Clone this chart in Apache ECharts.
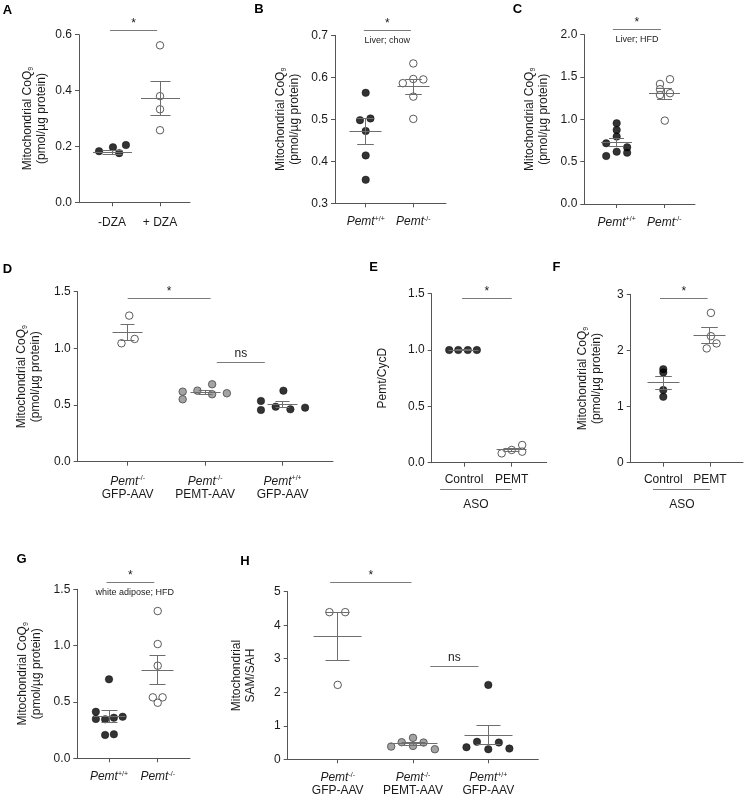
<!DOCTYPE html>
<html><head><meta charset="utf-8">
<script src="https://cdn.jsdelivr.net/npm/echarts@6/dist/echarts.min.js"></script>
<style>html,body{margin:0;padding:0;background:#fff}#c{width:745px;height:797px}</style>
</head><body><div id="c"></div>
<script>
// ---------------- DATA ----------------
// Panel A
const A_categories = ['-DZA', '+ DZA'];
const A_minus = [0.183, 0.197, 0.176, 0.205];
const A_minus_jitter = [-0.27, 0.02, 0.15, 0.29];
const A_plus = [0.562, 0.380, 0.333, 0.258];
const A_plus_jitter = [0, 0, 0, 0];
const A_mean = [0.179, 0.372];
const A_sem = [0.008, 0.060];
// Panel B (Liver; chow)
const B_categories = ['{i|Pemt}{p|+/+}', '{i|Pemt}{p|-/-}'];
const B_wt = [0.563, 0.498, 0.502, 0.472, 0.414, 0.356];
const B_wt_jitter = [0, -0.12, 0.10, 0, 0, 0];
const B_ko = [0.633, 0.586, 0.596, 0.595, 0.554, 0.501];
const B_ko_jitter = [0, -0.22, 0, 0.21, 0, 0];
const B_mean = [0.471, 0.577];
const B_sem = [0.031, 0.018];
// Panel C (Liver; HFD)
const C_categories = ['{i|Pemt}{p|+/+}', '{i|Pemt}{p|-/-}'];
const C_wt = [0.954, 0.875, 0.796, 0.717, 0.567, 0.618, 0.670, 0.606];
const C_wt_jitter = [0, 0, 0, -0.22, -0.22, 0, 0.22, 0.22];
const C_ko = [1.418, 1.356, 1.288, 1.474, 1.309, 0.985];
const C_ko_jitter = [-0.09, -0.09, -0.09, 0.12, 0.12, 0.01];
const C_mean = [0.725, 1.300];
const C_sem = [0.045, 0.063];
// Panel D
const D_categories = ['{i|Pemt}{p|-/-}\n{n|GFP-AAV}', '{i|Pemt}{p|-/-}\n{n|PEMT-AAV}', '{i|Pemt}{p|+/+}\n{n|GFP-AAV}'];
const D_koGfp = [1.289, 1.045, 1.083];
const D_koGfp_jitter = [0.02, -0.08, 0.09];
const D_koPemt = [0.618, 0.551, 0.627, 0.683, 0.595, 0.604];
const D_koPemt_jitter = [-0.29, -0.29, -0.10, 0.09, 0.09, 0.28];
const D_wtGfp = [0.536, 0.456, 0.485, 0.627, 0.462, 0.477];
const D_wtGfp_jitter = [-0.28, -0.28, -0.09, 0.01, 0.10, 0.29];
const D_mean = [1.139, 0.609, 0.503];
const D_sem = [0.070, 0.020, 0.027];
// Panel E
const E_categories = ['Control', 'PEMT'];
const E_control = [1.0, 1.0, 1.0, 1.0];
const E_control_jitter = [-0.31, -0.12, 0.08, 0.27];
const E_pemt = [0.083, 0.113, 0.157, 0.098];
const E_pemt_jitter = [-0.21, 0, 0.22, 0.22];
const E_mean = [1.0, 0.113];
const E_sem = [0.003, 0.016];
// Panel F
const F_categories = ['Control', 'PEMT'];
const F_control = [1.667, 1.609, 1.294, 1.174];
const F_control_jitter = [0, 0, 0, 0];
const F_pemt = [2.669, 2.254, 2.125, 2.036];
const F_pemt_jitter = [0.02, 0.02, 0.14, -0.07];
const F_mean = [1.423, 2.272];
const F_sem = [0.112, 0.140];
// Panel G (white adipose; HFD)
const G_categories = ['{i|Pemt}{p|+/+}', '{i|Pemt}{p|-/-}'];
const G_wt = [0.701, 0.413, 0.349, 0.346, 0.360, 0.369, 0.207, 0.213];
const G_wt_jitter = [0, -0.27, -0.27, -0.08, 0.10, 0.28, -0.08, 0.10];
const G_ko = [1.307, 1.014, 0.822, 0.541, 0.541, 0.493];
const G_ko_jitter = [0, 0, 0, -0.10, 0.10, 0];
const G_mean = [0.369, 0.783];
const G_sem = [0.053, 0.130];
// Panel H
const H_categories = ['{i|Pemt}{p|-/-}\n{n|GFP-AAV}', '{i|Pemt}{p|-/-}\n{n|PEMT-AAV}', '{i|Pemt}{p|+/+}\n{n|GFP-AAV}'];
const H_koGfp = [4.39, 4.39, 2.22];
const H_koGfp_jitter = [-0.11, 0.10, 0];
const H_koPemt = [0.38, 0.51, 0.64, 0.40, 0.50, 0.30];
const H_koPemt_jitter = [-0.29, -0.15, 0, 0, 0.14, 0.29];
const H_wtGfp = [2.22, 0.36, 0.52, 0.30, 0.50, 0.32];
const H_wtGfp_jitter = [0, -0.29, -0.15, 0, 0.14, 0.28];
const H_mean = [3.66, 0.46, 0.72];
const H_sem = [0.72, 0.05, 0.29];

// ---------------- LAYOUT / STYLE ----------------
const FONT = '"Liberation Sans", Arial, Helvetica, sans-serif';
const TXT = '#1a1a1a';
const AXC = '#555';
const COQ = '{t|Mitochondrial CoQ}{s|9}\n{t|(pmol/µg protein)}';
const styles = {
  black: {color: '#000', borderColor: '#000', borderWidth: 0.5},
  open: {color: '#fff', borderColor: '#333', borderWidth: 1},
  gray: {color: '#8c8c8c', borderColor: '#474747', borderWidth: 1}
};

const panels = [
  {letter: 'A', lx: 7.5, ly: 10, left: 79, top: 34.7, w: 111, h: 167.6, xmin: -0.6875, xmax: 1.625, ymin: 0, ymax: 0.6, iv: 0.2, dec: 1,
   name: COQ, gap: 30, mh: 19.5, ch: 10, cats: A_categories, lm: 14,
   groups: [{v: A_minus, j: A_minus_jitter, g: 0, s: 'black'}, {v: A_plus, j: A_plus_jitter, g: 1, s: 'open'}], mean: A_mean, sem: A_sem,
   br: [{from: -0.04, to: 0.94, y: 0.615, label: '*'}]},
  {letter: 'B', lx: 259, ly: 9.5, left: 335, top: 35.3, w: 111, h: 168, xmin: -0.645, xmax: 1.687, ymin: 0.3, ymax: 0.7, iv: 0.1, dec: 1,
   name: COQ, gap: 33, mh: 16, ch: 8.3, cats: B_categories, lm: 12,
   groups: [{v: B_wt, j: B_wt_jitter, g: 0, s: 'black'}, {v: B_ko, j: B_ko_jitter, g: 1, s: 'open'}], mean: B_mean, sem: B_sem,
   br: [{from: -0.04, to: 0.95, y: 0.7126, label: '*', note: 'Liver; chow'}]},
  {letter: 'C', lx: 517.5, ly: 9.5, left: 584.3, top: 34.7, w: 110.7, h: 169.3, xmin: -0.68, xmax: 1.645, ymin: 0, ymax: 2, iv: 0.5, dec: 1,
   name: COQ, gap: 34, mh: 15.5, ch: 7.5, cats: C_categories, lm: 12,
   groups: [{v: C_wt, j: C_wt_jitter, g: 0, s: 'black'}, {v: C_ko, j: C_ko_jitter, g: 1, s: 'open'}], mean: C_mean, sem: C_sem,
   br: [{from: -0.08, to: 0.93, y: 2.057, label: '*', note: 'Liver; HFD'}]},
  {letter: 'D', lx: 7.5, ly: 269, left: 77.7, top: 291.7, w: 255.3, h: 170, xmin: -0.645, xmax: 2.65, ymin: 0, ymax: 1.5, iv: 0.5, dec: 1,
   name: COQ, gap: 35, mh: 15, ch: 7, cats: D_categories, lm: 13,
   groups: [{v: D_koGfp, j: D_koGfp_jitter, g: 0, s: 'open'}, {v: D_koPemt, j: D_koPemt_jitter, g: 1, s: 'gray'}, {v: D_wtGfp, j: D_wtGfp_jitter, g: 2, s: 'black'}],
   mean: D_mean, sem: D_sem,
   br: [{from: 0.0, to: 1.07, y: 1.436, label: '*'}, {from: 1.15, to: 1.77, y: 0.876, label: 'ns'}]},
  {letter: 'E', lx: 373.5, ly: 267.5, left: 431.7, top: 293.7, w: 115, h: 169, xmin: -0.677, xmax: 1.734, ymin: 0, ymax: 1.5, iv: 0.5, dec: 1,
   name: '{t|Pemt/CycD}', gap: 42, mh: 15, ch: 8, cats: E_categories, lm: 11,
   groups: [{v: E_control, j: E_control_jitter, g: 0, s: 'black'}, {v: E_pemt, j: E_pemt_jitter, g: 1, s: 'open'}], mean: E_mean, sem: E_sem,
   br: [{from: -0.04, to: 1.0, y: 1.46, label: '*'}], aso: {from: -0.5, to: 1.0, tx: 0.25}},
  {letter: 'F', lx: 556.5, ly: 267.5, left: 630.7, top: 294.3, w: 112.3, h: 168.4, xmin: -0.698, xmax: 1.707, ymin: 0, ymax: 3, iv: 1, dec: 0,
   name: COQ, gap: 27, mh: 16, ch: 8.3, cats: F_categories, lm: 11,
   groups: [{v: F_control, j: F_control_jitter, g: 0, s: 'black'}, {v: F_pemt, j: F_pemt_jitter, g: 1, s: 'open'}], mean: F_mean, sem: F_sem,
   br: [{from: -0.07, to: 0.95, y: 2.925, label: '*'}], aso: {from: -0.22, to: 1.0, tx: 0.4}},
  {letter: 'G', lx: 21.5, ly: 559, left: 77.3, top: 589.3, w: 112.7, h: 169, xmin: -0.651, xmax: 1.663, ymin: 0, ymax: 1.5, iv: 0.5, dec: 1,
   name: COQ, gap: 34, mh: 16, ch: 8, cats: G_categories, lm: 12,
   groups: [{v: G_wt, j: G_wt_jitter, g: 0, s: 'black'}, {v: G_ko, j: G_ko_jitter, g: 1, s: 'open'}], mean: G_mean, sem: G_sem,
   br: [{from: -0.05, to: 0.93, y: 1.562, label: '*', note: 'white adipose; HFD', noteX: 0.53}]},
  {letter: 'H', lx: 245, ly: 561, left: 287.7, top: 591.7, w: 250.6, h: 167.6, xmin: -0.664, xmax: 2.664, ymin: 0, ymax: 5, iv: 1, dec: 0,
   name: '{t|Mitochondrial}\n{t|SAM/SAH}', gap: 30, mh: 24, ch: 12, cats: H_categories, lm: 12,
   groups: [{v: H_koGfp, j: H_koGfp_jitter, g: 0, s: 'open'}, {v: H_koPemt, j: H_koPemt_jitter, g: 1, s: 'gray'}, {v: H_wtGfp, j: H_wtGfp_jitter, g: 2, s: 'black'}],
   mean: H_mean, sem: H_sem,
   br: [{from: -0.1, to: 0.98, y: 5.27, label: '*'}, {from: 1.23, to: 1.87, y: 2.76, label: 'ns'}]}
];

// ---------------- BUILD ----------------
const grids = [], xAxes = [], yAxes = [], series = [], graphics = [];
const half = v => Math.round(v - 0.5) + 0.5;

panels.forEach((p, pi) => {
  grids.push({left: p.left, top: p.top, width: p.w, height: p.h, outerBoundsMode: 'none', containLabel: false});
  const idx = p.cats.map((_, i) => i);
  xAxes.push({
    type: 'value', gridIndex: pi, min: p.xmin, max: p.xmax,
    splitLine: {show: false},
    axisLine: {show: true, onZero: false, lineStyle: {color: AXC, width: 1}},
    axisTick: {show: true, customValues: idx, length: 4, lineStyle: {color: AXC}},
    axisLabel: {
      customValues: idx, margin: p.lm, color: TXT, fontFamily: FONT, fontSize: 12,
      formatter: v => p.cats[Math.round(v)] || '',
      rich: {
        i: {fontStyle: 'italic', fontSize: 12, fontFamily: FONT, color: TXT, lineHeight: 13},
        p: {fontSize: 7, fontFamily: FONT, color: TXT, verticalAlign: 'top', lineHeight: 13},
        n: {fontSize: 12, fontFamily: FONT, color: TXT, lineHeight: 13}
      }
    }
  });
  yAxes.push({
    type: 'value', gridIndex: pi, min: p.ymin, max: p.ymax, interval: p.iv,
    splitLine: {show: false},
    axisLine: {show: true, onZero: false, lineStyle: {color: AXC, width: 1}},
    axisTick: {show: true, length: 4, lineStyle: {color: AXC}},
    axisLabel: {margin: 7, color: TXT, fontFamily: FONT, fontSize: 12, formatter: v => Number(v).toFixed(p.dec)},
    name: p.name, nameLocation: 'middle', nameRotate: 90, nameGap: p.gap,
    nameTextStyle: {
      color: TXT, fontFamily: FONT, fontSize: 12,
      rich: {
        t: {fontSize: 12, fontFamily: FONT, color: TXT, lineHeight: 14},
        s: {fontSize: 7, fontFamily: FONT, color: TXT, verticalAlign: 'bottom', lineHeight: 14}
      }
    }
  });
  // points
  p.groups.forEach(gr => {
    series.push({
      type: 'scatter', xAxisIndex: pi, yAxisIndex: pi, symbol: 'circle', symbolSize: 7.5, z: 2,
      itemStyle: styles[gr.s], silent: true,
      data: gr.v.map((v, k) => [gr.g + gr.j[k], v])
    });
  });
  // mean ± SEM
  series.push({
    type: 'custom', xAxisIndex: pi, yAxisIndex: pi, z: 4, silent: true,
    data: p.mean.map((m, i) => [i, m, p.sem[i]]),
    renderItem: (params, api) => {
      const x = api.value(0), m = api.value(1), s = api.value(2);
      const c = api.coord([x, m]), t = api.coord([x, m + s]), b = api.coord([x, m - s]);
      const cx = half(c[0]), cy = half(c[1]), ty = half(t[1]), by = half(b[1]);
      const st = {stroke: '#6e6e6e', lineWidth: 1};
      return {type: 'group', children: [
        {type: 'line', shape: {x1: cx - p.mh, y1: cy, x2: cx + p.mh, y2: cy}, style: st},
        {type: 'line', shape: {x1: cx, y1: ty, x2: cx, y2: by}, style: st},
        {type: 'line', shape: {x1: cx - p.ch, y1: ty, x2: cx + p.ch, y2: ty}, style: st},
        {type: 'line', shape: {x1: cx - p.ch, y1: by, x2: cx + p.ch, y2: by}, style: st}
      ]};
    }
  });
  // significance brackets
  series.push({
    type: 'custom', xAxisIndex: pi, yAxisIndex: pi, z: 5, silent: true, clip: false,
    data: p.br.map(b => [b.from, b.to, b.y]),
    renderItem: (params, api) => {
      const b = p.br[params.dataIndex];
      const p0 = api.coord([b.from, b.y]), p1 = api.coord([b.to, b.y]);
      const y = half(p0[1]);
      const cx = (p0[0] + p1[0]) / 2;
      const ch = [
        {type: 'line', shape: {x1: p0[0], y1: y, x2: p1[0], y2: y}, style: {stroke: '#7a7a7a', lineWidth: 1}},
        {type: 'text', style: {text: b.label, x: cx, y: y - (b.label === '*' ? 7 : 9), textAlign: 'center', textVerticalAlign: 'middle', align: 'center', verticalAlign: 'middle', font: '12px ' + FONT, fill: TXT}}
      ];
      if (b.note) {
        const nx = b.noteX !== undefined ? api.coord([b.noteX, b.y])[0] : cx;
        ch.push({type: 'text', style: {text: b.note, x: nx, y: y + 10, textAlign: 'center', textVerticalAlign: 'middle', align: 'center', verticalAlign: 'middle', font: '9px ' + FONT, fill: TXT}});
      }
      return {type: 'group', children: ch};
    }
  });
  // ASO group bracket under axis
  if (p.aso) {
    series.push({
      type: 'custom', xAxisIndex: pi, yAxisIndex: pi, z: 5, silent: true, clip: false,
      data: [[p.aso.from, p.aso.to, p.ymin]],
      renderItem: (params, api) => {
        const a0 = api.coord([p.aso.from, p.ymin]), a1 = api.coord([p.aso.to, p.ymin]);
        const tx = api.coord([p.aso.tx, p.ymin])[0];
        const y = half(a0[1] + 26.6);
        return {type: 'group', children: [
          {type: 'line', shape: {x1: a0[0], y1: y, x2: a1[0], y2: y}, style: {stroke: '#7a7a7a', lineWidth: 1}},
          {type: 'text', style: {text: 'ASO', x: tx, y: a0[1] + 42.3, textAlign: 'center', textVerticalAlign: 'middle', align: 'center', verticalAlign: 'middle', font: '12px ' + FONT, fill: TXT}}
        ]};
      }
    });
  }
  graphics.push({type: 'text', x: p.lx, y: p.ly, style: {text: p.letter, font: 'bold 13px ' + FONT, fill: '#000', textAlign: 'center', textVerticalAlign: 'middle', align: 'center', verticalAlign: 'middle'}});
});

const chart = echarts.init(document.getElementById('c'), null, {renderer: 'canvas', width: 745, height: 797});
chart.setOption({
  animation: false,
  backgroundColor: '#fff',
  grid: grids, xAxis: xAxes, yAxis: yAxes, series: series, graphic: graphics
});
</script></body></html>
